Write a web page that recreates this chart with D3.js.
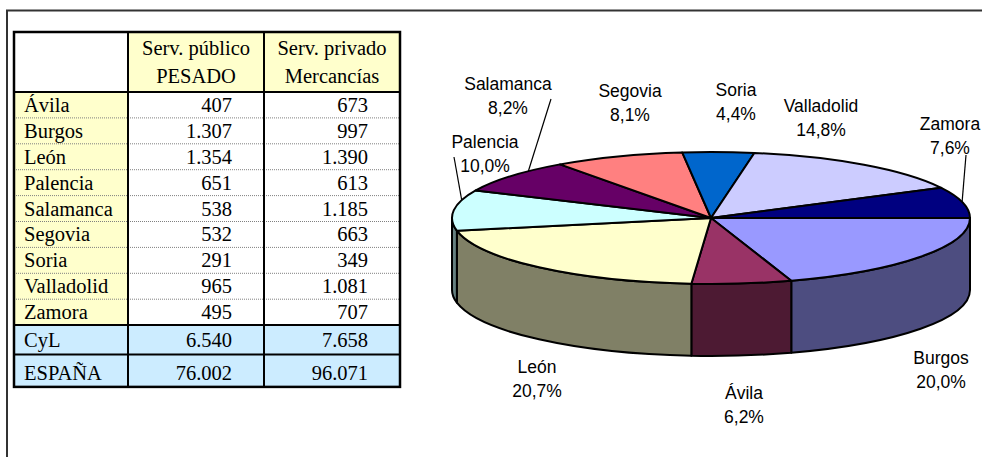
<!DOCTYPE html>
<html lang="es">
<head>
<meta charset="utf-8">
<title>Transporte pesado CyL</title>
<script src="https://d3js.org/d3.v7.min.js"></script>
<style>
  body { margin: 0; background: #fff; }
  svg { display: block; }
</style>
</head>
<body>
<div id="chart"></div>
<script>

// ---- data ----
var provinces   = ["Ávila", "Burgos", "León", "Palencia", "Salamanca", "Segovia", "Soria", "Valladolid", "Zamora"];
var servPublico = [407, 1307, 1354, 651, 538, 532, 291, 965, 495];
var servPrivado = [673, 997, 1390, 613, 1185, 663, 349, 1081, 707];
var totalNames   = ["CyL", "ESPAÑA"];
var totalPublico = [6540, 76002];
var totalPrivado = [7658, 96071];
var headers = [["Serv. público", "PESADO"], ["Serv. privado", "Mercancías"]];
// order of the slices, clockwise from 3 o'clock
var pieOrder = ["Burgos", "Ávila", "León", "Palencia", "Salamanca", "Segovia", "Soria", "Valladolid", "Zamora"];

// ---- styles ----
var topColor = {
  "Burgos": "#9999FF", "Ávila": "#993366", "León": "#FFFFCC", "Palencia": "#CCFFFF",
  "Salamanca": "#660066", "Segovia": "#FF8080", "Soria": "#0066CC",
  "Valladolid": "#CCCCFF", "Zamora": "#000080"
};
var sideColor = {
  "Burgos": "#4D4D80", "Ávila": "#4D1A33", "León": "#808066", "Palencia": "#668080",
  "Salamanca": "#330033", "Segovia": "#804040", "Soria": "#003366",
  "Valladolid": "#666680", "Zamora": "#000040"
};

var es = d3.formatLocale({decimal: ",", thousands: ".", grouping: [3], currency: ["", " €"]});
var fmtNum = es.format(",d");
var fmtPct = es.format(".1%");

var W = 982, H = 457;
var svg = d3.select("#chart").append("svg")
    .attr("width", W).attr("height", H);

// outer frame (top and left only visible)
svg.append("path")
    .attr("d", "M7," + H + "V10.5H" + W)
    .attr("fill", "none")
    .attr("stroke", "#333")
    .attr("stroke-width", 2);

/*
 ======================= TABLE =======================
*/
var tx = [14, 128, 264, 400];          // column edges
var tTop = 32, tHead = 92, rowH = 25.9;
var totH = [29.3, 32.5];
var provBottom = tHead + provinces.length * rowH;
var totTop = [provBottom, provBottom + totH[0]];
var tBottom = totTop[1] + totH[1];
var serif = "'Liberation Serif', 'Times New Roman', serif";
var tFont = 20.5;

var table = svg.append("g").attr("font-family", serif).attr("font-size", tFont);

// header backgrounds
table.append("rect").attr("x", tx[1]).attr("y", tTop).attr("width", tx[3] - tx[1]).attr("height", tHead - tTop)
    .attr("fill", "#FFFFCC");
// province name column
table.append("rect").attr("x", tx[0]).attr("y", tHead).attr("width", tx[1] - tx[0]).attr("height", provBottom - tHead)
    .attr("fill", "#FFFFCC");
// total rows
table.append("rect").attr("x", tx[0]).attr("y", provBottom).attr("width", tx[3] - tx[0]).attr("height", tBottom - provBottom)
    .attr("fill", "#CCECFF");

// dotted separators between provinces
table.selectAll("line.dot")
  .data(d3.range(1, provinces.length))
  .enter().append("line")
    .attr("class", "dot")
    .attr("x1", tx[0]).attr("x2", tx[3])
    .attr("y1", function(i) { return tHead + i * rowH; })
    .attr("y2", function(i) { return tHead + i * rowH; })
    .attr("stroke", "#808080")
    .attr("stroke-width", 1)
    .attr("stroke-dasharray", "1,1");

// thick rules
[tHead, provBottom, totTop[1]].forEach(function(y) {
  table.append("line").attr("x1", tx[0]).attr("x2", tx[3]).attr("y1", y).attr("y2", y)
      .attr("stroke", "#000").attr("stroke-width", 2);
});
[tx[1], tx[2]].forEach(function(x) {
  table.append("line").attr("x1", x).attr("x2", x).attr("y1", tTop).attr("y2", tBottom)
      .attr("stroke", "#000").attr("stroke-width", 2);
});
table.append("rect").attr("x", tx[0]).attr("y", tTop).attr("width", tx[3] - tx[0]).attr("height", tBottom - tTop)
    .attr("fill", "none").attr("stroke", "#000").attr("stroke-width", 2.5);

// header text
headers.forEach(function(h, c) {
  var xc = (tx[c + 1] + tx[c + 2]) / 2;
  table.append("text").attr("x", xc).attr("y", 55).attr("text-anchor", "middle").text(h[0]);
  table.append("text").attr("x", xc).attr("y", 83).attr("text-anchor", "middle").text(h[1]);
});

// province rows
var numX = [tx[2] - 32, tx[3] - 32];
provinces.forEach(function(p, i) {
  var base = tHead + (i + 1) * rowH - 6;
  table.append("text").attr("x", 24).attr("y", base).text(p);
  table.append("text").attr("x", numX[0]).attr("y", base).attr("text-anchor", "end").text(fmtNum(servPublico[i]));
  table.append("text").attr("x", numX[1]).attr("y", base).attr("text-anchor", "end").text(fmtNum(servPrivado[i]));
});

// total rows
totalNames.forEach(function(n, i) {
  var base = totTop[i] + totH[i] - 7;
  table.append("text").attr("x", 24).attr("y", base).text(n);
  table.append("text").attr("x", numX[0]).attr("y", base).attr("text-anchor", "end").text(fmtNum(totalPublico[i]));
  table.append("text").attr("x", numX[1]).attr("y", base).attr("text-anchor", "end").text(fmtNum(totalPrivado[i]));
});

/*
 ======================= 3D PIE =======================
*/
var cx = 711, cy = 218, rx = 259, ry = 66, depth = 72;

var pieData = pieOrder.map(function(name) {
  return {name: name, value: servPublico[provinces.indexOf(name)]};
});
var total = d3.sum(pieData, function(d) { return d.value; });

var pie = d3.pie()
    .sort(null)
    .value(function(d) { return d.value; })
    .startAngle(Math.PI / 2)
    .endAngle(Math.PI / 2 + 2 * Math.PI);
var arcs = pie(pieData);

// point on the top ellipse for a d3 angle (0 = 12 o'clock, clockwise)
function pt(a, dy) {
  return [cx + rx * Math.sin(a), cy - ry * Math.cos(a) + (dy || 0)];
}

var gPie = svg.append("g")
    .attr("stroke", "#000")
    .attr("stroke-width", 2)
    .attr("stroke-linejoin", "round");

// side walls (front half only: angles PI/2 .. 3PI/2)
gPie.selectAll("path.side")
  .data(arcs.filter(function(d) { return d.startAngle < 1.5 * Math.PI; }))
  .enter().append("path")
    .attr("class", "side")
    .attr("fill", function(d) { return sideColor[d.data.name]; })
    .attr("d", function(d) {
      var s = Math.max(d.startAngle, Math.PI / 2),
          e = Math.min(d.endAngle, 1.5 * Math.PI);
      var t0 = pt(s), t1 = pt(e), b0 = pt(s, depth), b1 = pt(e, depth);
      return "M" + t0 + "A" + rx + "," + ry + " 0 0 1 " + t1 +
             "L" + b1 + "A" + rx + "," + ry + " 0 0 0 " + b0 + "Z";
    });

// top faces
gPie.selectAll("path.top")
  .data(arcs)
  .enter().append("path")
    .attr("class", "top")
    .attr("fill", function(d) { return topColor[d.data.name]; })
    .attr("d", function(d) {
      var p0 = pt(d.startAngle), p1 = pt(d.endAngle);
      var large = (d.endAngle - d.startAngle) > Math.PI ? 1 : 0;
      return "M" + cx + "," + cy + "L" + p0 + "A" + rx + "," + ry + " 0 " + large + " 1 " + p1 + "Z";
    });

// ---- labels ----
var labelPos = {
  "Burgos": [941, 370], "Ávila": [744, 404.5], "León": [537, 379],
  "Palencia": [485, 154], "Salamanca": [508, 96], "Segovia": [630, 102.5],
  "Soria": [736, 102], "Valladolid": [821, 118], "Zamora": [950, 136]
};
// leader lines: start near the label, end on the slice edge at fraction f of its span
var leaders = {
  "Salamanca": {from: [551, 99], f: 0.69},
  "Palencia":  {from: [454, 157], f: 0.75},
  "Zamora":    {from: [966, 155], f: 0.48}
};
var lineGap = 24, fs = 17.5;

var gLab = svg.append("g")
    .attr("font-family", "'Liberation Sans', Arial, sans-serif")
    .attr("font-size", fs)
    .attr("fill", "#000")
    .attr("text-anchor", "middle");

arcs.forEach(function(d) {
  var p = labelPos[d.data.name];
  gLab.append("text").attr("x", p[0]).attr("y", p[1] - lineGap / 2 + fs * 0.35).text(d.data.name);
  gLab.append("text").attr("x", p[0]).attr("y", p[1] + lineGap / 2 + fs * 0.35).text(fmtPct(d.value / total));

  var L = leaders[d.data.name];
  if (L) {
    var end = pt(d.startAngle + L.f * (d.endAngle - d.startAngle));
    svg.append("line")
        .attr("x1", L.from[0]).attr("y1", L.from[1])
        .attr("x2", end[0]).attr("y2", end[1])
        .attr("stroke", "#000").attr("stroke-width", 1.2);
  }
});

</script>
</body>
</html>
